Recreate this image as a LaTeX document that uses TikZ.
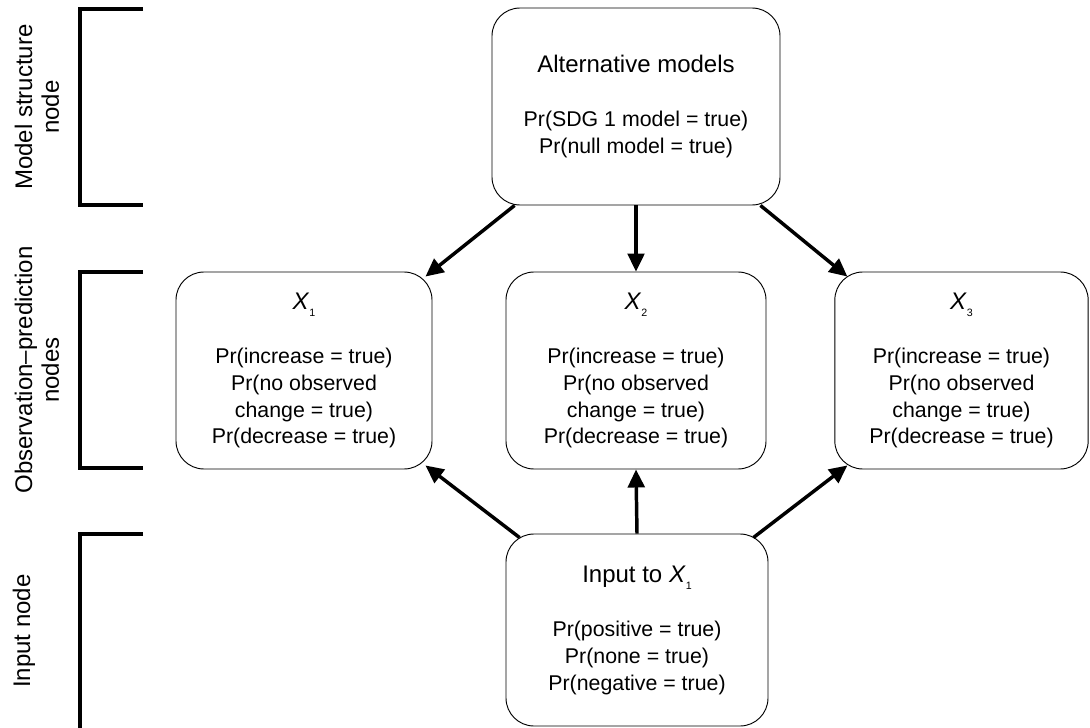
\documentclass[tikz,border=0pt]{standalone}
\usepackage{fontspec}
\setmainfont{Liberation Sans}
\usetikzlibrary{arrows.meta,calc}
\newcommand{\mysub}[1]{\raisebox{-0.55ex}{\fontsize{8}{8}\selectfont #1}}
\begin{document}
\begin{tikzpicture}[x=0.75pt,y=-0.75pt,
  box/.style={draw, line width=0.7pt, rounded corners=21pt, align=center, inner sep=0pt,
              font=\fontsize{16}{20}\selectfont},
  conn/.style={line width=2.6pt, -{Triangle[length=13.5pt,width=12.5pt]}},
  brk/.style={line width=2.3pt},
  side/.style={rotate=90, align=center, font=\fontsize{18}{20}\selectfont}]
\useasboundingbox (0,0) rectangle (1090,728);

% boxes
\node[box, minimum width=216pt, minimum height=147.75pt] (top) at (636,106.5)
  {{\fontsize{18}{20}\selectfont Alternative models}\\[21pt]
   Pr(SDG 1 model = true)\\ Pr(null model = true)};
\node[box, minimum width=192pt, minimum height=147.75pt] (X1) at (304,370.5)
  {{\fontsize{18}{20}\selectfont\textit{X}\mysub{1}}\\[21pt]
   Pr(increase = true)\\ Pr(no observed\\ change = true)\\ Pr(decrease = true)};
\node[box, minimum width=195pt, minimum height=147.75pt] (X2) at (636,370.5)
  {{\fontsize{18}{20}\selectfont\textit{X}\mysub{2}}\\[21pt]
   Pr(increase = true)\\ Pr(no observed\\ change = true)\\ Pr(decrease = true)};
\node[box, minimum width=190pt, minimum height=147.75pt] (X3) at (961.5,370.5)
  {{\fontsize{18}{20}\selectfont\textit{X}\mysub{3}}\\[21pt]
   Pr(increase = true)\\ Pr(no observed\\ change = true)\\ Pr(decrease = true)};
\node[box, minimum width=196.5pt, minimum height=144pt] (in) at (637,630)
  {{\fontsize{18}{20}\selectfont Input to \textit{X}\mysub{1}}\\[21pt]
   Pr(positive = true)\\ Pr(none = true)\\ Pr(negative = true)};

% side labels
\node[side] (lm) at (37,107) {Model structure\\node};
\node[side] (lo) at (37,370) {Observation–prediction\\nodes};
\node[side] (li) at (24,631) {Input node};

% brackets
\coordinate (b1a) at (143,9);   \coordinate (b1b) at (80,9);
\coordinate (b1c) at (80,205);  \coordinate (b1d) at (143,205);
\coordinate (b2a) at (143,272); \coordinate (b2b) at (80,272);
\coordinate (b2c) at (80,468);  \coordinate (b2d) at (143,468);
\coordinate (b3a) at (143,534); \coordinate (b3b) at (80,534);
\coordinate (b3c) at (80,729);
\draw[brk] (b1a) -- (b1b) -- (b1c) -- (b1d);
\draw[brk] (b2a) -- (b2b) -- (b2c) -- (b2d);
\draw[brk] (b3a) -- (b3b) -- (b3c);

% connectors
\draw[conn] ($(top.south west)+(23,0)$) -- ($(X1.north east)+(-7,5)$);
\draw[conn] (top.south) -- (X2.north);
\draw[conn] ($(top.south east)+(-20,0)$) -- ($(X3.north west)+(13,5)$);
\draw[conn] ($(in.north west)+(14,4)$) -- ($(X1.south east)+(-7,-4)$);
\draw[conn] (in.north) -- (X2.south);
\draw[conn] ($(in.north east)+(-15,4)$) -- ($(X3.south west)+(13,-4)$);
\end{tikzpicture}
\end{document}
